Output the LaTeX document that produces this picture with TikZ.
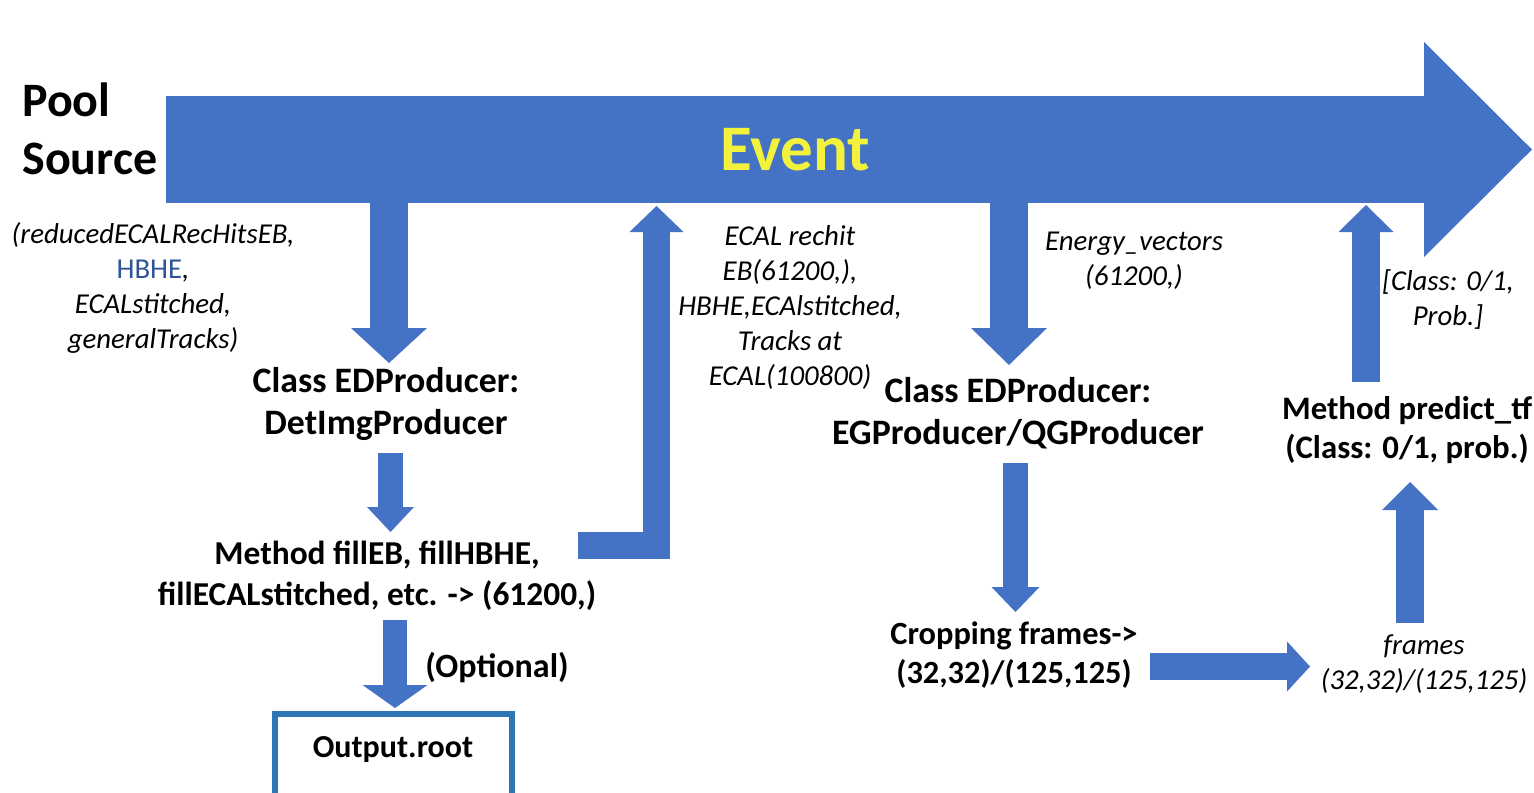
\documentclass[tikz,border=0pt]{standalone}
\usepackage{fontspec}
\setmainfont{Carlito}
\usetikzlibrary{arrows.meta}
\definecolor{arrowblue}{RGB}{68,114,196}
\definecolor{boxblue}{RGB}{46,117,182}
\definecolor{eventyellow}{RGB}{242,242,60}
\definecolor{hbheblue}{RGB}{47,85,151}
\begin{document}
\begin{tikzpicture}[x=0.5pt,y=-0.5pt,
  barrow/.style n args={3}{draw=arrowblue, line width=#1*0.5pt, line join=miter,
     -{Triangle[width=#2*0.5pt, length=#3*0.5pt, line width=0pt]}},
  boldlbl/.style 2 args={font=\bfseries\fontsize{#1}{#2}\selectfont, align=center, inner sep=0pt},
  itlbl/.style={font=\itshape\fontsize{14.4}{17.5}\selectfont, align=center, inner sep=0pt},
  outbox/.style={draw=boxblue, line width=3pt}]
\useasboundingbox (0,0) rectangle (1534,792);
% coordinates
\coordinate (src) at (166,149.5);
\coordinate (sink) at (1532,149.5);
\coordinate (d1s) at (389,200);   \coordinate (d1e) at (389,363);
\coordinate (upS) at (578,545);   \coordinate (upE) at (656.5,206);
\coordinate (d3s) at (1009,200);  \coordinate (d3e) at (1009,365);
\coordinate (d4s) at (390.5,453); \coordinate (d4e) at (390.5,532);
\coordinate (d5s) at (1015.5,463);\coordinate (d5e) at (1015.5,612);
\coordinate (u6s) at (1410,623);  \coordinate (u6e) at (1410,482);
\coordinate (u7s) at (1366,382);  \coordinate (u7e) at (1366,205);
\coordinate (d8s) at (395,620);   \coordinate (d8e) at (395,708);
\coordinate (r9s) at (1150,666.5);\coordinate (r9e) at (1310,666.5);
% main event arrow
\draw[barrow={107}{215}{108}] (src) -- (sink);
\node[boldlbl={32.5}{38}, text=eventyellow] (event) at (795,150) {Event};
% arrows
\draw[barrow={38}{76}{35}] (d1s) -- (d1e);
\draw[barrow={27}{54}{26}] (upS) -| (upE);
\draw[barrow={38}{76}{37}] (d3s) -- (d3e);
\draw[barrow={25}{47}{25}] (d4s) -- (d4e);
\draw[barrow={25}{48}{25}] (d5s) -- (d5e);
\draw[barrow={28}{56}{28}] (u6s) -- (u6e);
\draw[barrow={28}{55}{27}] (u7s) -- (u7e);
\draw[barrow={24}{65}{23}] (d8s) -- (d8e);
\draw[barrow={27}{50}{23}] (r9s) -- (r9e);
% labels
\node[boldlbl={24}{29}, align=left, anchor=west] (pool) at (22,129) {Pool\\Source};
\node[itlbl] (inputs) at (153,288) {(reducedECALRecHitsEB,\\{\upshape\color{hbheblue}HBHE},\\ECALstitched,\\generalTracks)};
\node[boldlbl={17.9}{21}] (det) at (386,404) {Class EDProducer:\\DetImgProducer};
\node[boldlbl={16.7}{20.5}] (fill) at (377,576) {Method fillEB, fillHBHE,\\fillECALstitched, etc. -> (61200,)};
\node[boldlbl={17}{20}] (opt) at (497,668) {(Optional)};
\node[boldlbl={16}{19}] (out) at (393,750) {Output.root};
\draw[outbox] (275,800) |- (512,714) -- (512,800);
\node[itlbl] (mid) at (790,307) {ECAL rechit\\EB(61200,),\\HBHE,ECAlstitched,\\Tracks at\\ECAL(100800)};
\node[itlbl] (energy) at (1134,261) {Energy\_vectors\\(61200,)};
\node[boldlbl={17.9}{21}] (eg) at (1018,413) {Class EDProducer:\\EGProducer/QGProducer};
\node[boldlbl={16.2}{19.5}] (crop) at (1014,655) {Cropping frames->\\(32,32)/(125,125)};
\node[itlbl] (frames) at (1424,664) {frames\\(32,32)/(125,125)};
\node[boldlbl={16.4}{19.5}] (pred) at (1407,430) {Method predict\_tf\\(Class: 0/1, prob.)};
\node[itlbl] (cls) at (1448,300) {[Class: 0/1,\\Prob.]};
\end{tikzpicture}
\end{document}
